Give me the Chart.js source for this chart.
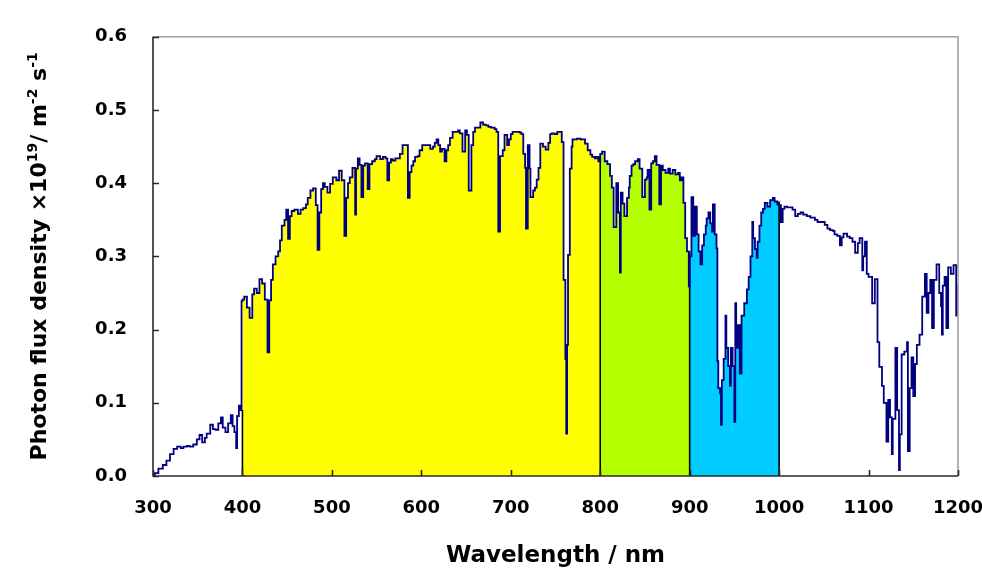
<!DOCTYPE html>
<html>
<head>
<meta charset="utf-8">
<script src="https://cdn.jsdelivr.net/npm/chart.js@4.4.1/dist/chart.umd.min.js"></script>
<style>
  html, body { margin: 0; padding: 0; background: #ffffff; }
  #wrap { width: 982px; height: 569px; position: relative; }
</style>
</head>
<body>
<div id="wrap"><canvas id="chart"></canvas></div>
<script>
// Solar photon flux spectrum (x10^19 photons m^-2 s^-1 per nm) against wavelength (nm)
const wavelength = [
  302, 306, 311, 315, 319, 323, 327, 331, 334, 338, 341, 345, 349, 352, 355, 358, 360, 364, 367, 370,
  373, 376, 378, 381, 384, 387, 389, 391, 393, 394, 396, 397, 399,
  400, 402, 405, 408, 411, 413, 416, 419, 422, 425, 428, 430, 432, 434, 437, 440, 442, 444, 447, 449,
  451, 453, 455, 458, 462, 465, 468, 471, 473, 476, 479, 482, 484, 486, 488, 490, 492, 495, 498,
  501, 505, 508, 511, 514, 516, 518, 520, 523, 526, 527, 529, 531, 533, 535, 537, 540, 542, 545, 548,
  550, 554, 557, 560, 562, 564, 566, 568, 571, 574, 576, 579, 582, 585, 587, 589, 591, 593, 596, 598,
  601, 604, 607, 610, 613, 615, 617, 619, 621, 623, 626, 628, 630, 632, 635, 638, 641, 643, 646, 649,
  651, 653, 656, 658, 660, 663, 666, 669, 672, 675, 678, 682, 684, 686, 688, 691, 693, 696, 698,
  700, 702, 706, 710, 712, 714, 716, 717, 719, 721, 722, 725, 727, 729, 731, 733, 736, 739, 742, 744,
  746, 749, 752, 755, 757, 759, 761, 762, 763, 764, 766, 768, 769, 772, 774, 778, 783, 786, 789, 791,
  794, 796, 798,
  800, 802, 805, 808, 811, 813, 815, 818, 820, 822, 823, 825, 827, 830, 832, 833, 835, 837, 839, 842,
  844, 847, 850, 852, 853, 855, 857, 859, 861, 863, 866, 868, 870, 873, 876, 878, 881, 884, 887, 889,
  891, 893, 895, 897, 899,
  900, 902, 904, 906, 908, 910, 912, 914, 916, 918, 919, 921, 923, 925, 926, 928, 930, 931, 932, 934,
  935, 936, 938, 940, 941, 943, 945, 946, 948, 950, 951, 952, 954, 956, 958, 961, 964, 966, 968, 970,
  971, 973, 975, 976, 978, 980, 982, 984, 987, 990, 993, 995, 998,
  1000, 1002, 1004, 1006, 1009, 1012, 1015, 1018, 1021, 1024, 1027, 1031, 1035, 1040, 1043, 1046, 1051,
  1054, 1057, 1060, 1062, 1065, 1068, 1070, 1072, 1076, 1079, 1082, 1085, 1088, 1090, 1093, 1094, 1096,
  1098, 1100, 1104, 1107, 1110, 1112, 1115, 1117, 1120, 1122, 1124, 1126, 1127, 1130, 1132, 1134, 1135,
  1137, 1140, 1143, 1144, 1146, 1148, 1150, 1152, 1154, 1157, 1160, 1163, 1165, 1167, 1169, 1171, 1173,
  1176, 1179, 1181, 1182, 1183, 1185, 1187, 1189, 1192, 1195, 1198, 1199, 1200
];
const flux = [
  0.000, 0.004, 0.010, 0.015, 0.021, 0.030, 0.037, 0.040, 0.038, 0.040, 0.041, 0.040, 0.043, 0.050, 0.056, 0.046, 0.052, 0.058, 0.070, 0.064,
  0.063, 0.072, 0.080, 0.066, 0.060, 0.072, 0.083, 0.068, 0.060, 0.038, 0.082, 0.096, 0.090,
  0.239, 0.241, 0.245, 0.230, 0.216, 0.248, 0.256, 0.250, 0.269, 0.263, 0.241, 0.169, 0.240, 0.268, 0.289, 0.300, 0.307, 0.322, 0.342, 0.350,
  0.364, 0.324, 0.355, 0.362, 0.364, 0.358, 0.364, 0.366, 0.371, 0.380, 0.390, 0.393, 0.370, 0.309, 0.360, 0.392, 0.400, 0.395, 0.387,
  0.399, 0.408, 0.404, 0.417, 0.404, 0.328, 0.380, 0.400, 0.408, 0.421, 0.357, 0.420, 0.434, 0.425, 0.381, 0.424, 0.427, 0.392, 0.426, 0.430,
  0.433, 0.437, 0.433, 0.436, 0.434, 0.404, 0.428, 0.433, 0.431, 0.434, 0.434, 0.440, 0.452, 0.452, 0.380, 0.415, 0.424, 0.430, 0.436, 0.437,
  0.445, 0.452, 0.452, 0.452, 0.447, 0.450, 0.455, 0.460, 0.452, 0.443, 0.447, 0.430, 0.445, 0.452, 0.462, 0.470, 0.470, 0.472, 0.468, 0.443,
  0.472, 0.466, 0.390, 0.452, 0.470, 0.476, 0.476, 0.483, 0.480, 0.479, 0.477, 0.476, 0.474, 0.470, 0.334, 0.437, 0.445, 0.466, 0.452,
  0.460, 0.467, 0.470, 0.470, 0.469, 0.467, 0.440, 0.421, 0.338, 0.452, 0.420, 0.381, 0.390, 0.394, 0.405, 0.421, 0.454, 0.450, 0.446, 0.455,
  0.467, 0.468, 0.467, 0.470, 0.470, 0.456, 0.268, 0.160, 0.058, 0.179, 0.302, 0.420, 0.450, 0.460, 0.460, 0.461, 0.460, 0.454, 0.445, 0.439,
  0.436, 0.434, 0.436,
  0.430, 0.440, 0.443, 0.430, 0.426, 0.410, 0.394, 0.340, 0.400, 0.360, 0.278, 0.387, 0.372, 0.355, 0.380, 0.394, 0.410, 0.424, 0.426, 0.430,
  0.433, 0.420, 0.381, 0.405, 0.408, 0.418, 0.364, 0.427, 0.430, 0.437, 0.425, 0.371, 0.424, 0.418, 0.414, 0.420, 0.413, 0.418, 0.412, 0.414,
  0.404, 0.408, 0.373, 0.325, 0.307,
  0.259, 0.300, 0.381, 0.328, 0.368, 0.330, 0.307, 0.289, 0.315, 0.330, 0.342, 0.352, 0.360, 0.345, 0.334, 0.371, 0.330, 0.311, 0.157, 0.120,
  0.113, 0.070, 0.131, 0.160, 0.219, 0.175, 0.150, 0.123, 0.175, 0.150, 0.074, 0.236, 0.175, 0.206, 0.140, 0.219, 0.236, 0.255, 0.272, 0.300,
  0.347, 0.325, 0.310, 0.298, 0.320, 0.342, 0.360, 0.365, 0.373, 0.368, 0.377, 0.380, 0.375,
  0.371, 0.370, 0.347, 0.365, 0.368, 0.367, 0.367, 0.364, 0.355, 0.358, 0.360, 0.357, 0.355, 0.353, 0.350, 0.347, 0.347,
  0.343, 0.338, 0.336, 0.335, 0.330, 0.328, 0.315, 0.326, 0.331, 0.327, 0.325, 0.320, 0.305, 0.318, 0.325, 0.281, 0.300,
  0.320, 0.276, 0.272, 0.236, 0.269, 0.183, 0.149, 0.123, 0.100, 0.047, 0.104, 0.080, 0.030, 0.078, 0.175, 0.090, 0.008,
  0.057, 0.166, 0.170, 0.183, 0.034, 0.120, 0.162, 0.109, 0.153, 0.179, 0.193, 0.245, 0.276, 0.223, 0.250, 0.268, 0.202,
  0.268, 0.289, 0.250, 0.232, 0.193, 0.260, 0.272, 0.202, 0.285, 0.276, 0.288, 0.219, 0.260
];

// Shaded wavelength bands and their colours
const bandEdges = [400, 800, 900, 1000];
const bandColors = ['#FFFF00', '#B4FF00', '#00CCFF'];

// Axis ticks
const xTickValues = [300, 400, 500, 600, 700, 800, 900, 1000, 1100, 1200];
const yTickValues = [0.0, 0.1, 0.2, 0.3, 0.4, 0.5, 0.6];

const xTitle = 'Wavelength / nm';
const yTitleParts = [
  { text: 'Photon flux density \u00d710' },
  { text: '19', sup: true },
  { text: '/ m' },
  { text: '-2', sup: true },
  { text: ' s' },
  { text: '-1', sup: true }
];

const FONT = "'DejaVu Sans', 'Liberation Sans', Arial, sans-serif";

const spectrum = wavelength.map((w, i) => ({ x: w, y: flux[i] }));

// value held at x (stepped line, value applies from its wavelength onward)
function valueAt(x) {
  let v = flux[0];
  for (let i = 0; i < wavelength.length; i++) { if (wavelength[i] <= x) v = flux[i]; else break; }
  return v;
}
// value held just below x
function valueBefore(x) {
  let v = flux[0];
  for (let i = 0; i < wavelength.length; i++) { if (wavelength[i] < x) v = flux[i]; else break; }
  return v;
}

const datasets = [];

// Filled bands under the spectrum
for (let b = 0; b < bandColors.length; b++) {
  const lo = bandEdges[b], hi = bandEdges[b + 1];
  const pts = [{ x: lo, y: valueAt(lo) }];
  spectrum.forEach(p => { if (p.x > lo && p.x < hi) pts.push({ x: p.x, y: p.y }); });
  pts.push({ x: hi, y: valueBefore(hi) });
  datasets.push({
    data: pts, stepped: 'after', borderWidth: 0, borderColor: 'rgba(0,0,0,0)',
    backgroundColor: bandColors[b], fill: 'origin', pointRadius: 0, order: 3
  });
}

// Black dividers at the band edges
bandEdges.forEach(e => {
  datasets.push({
    data: [{ x: e, y: 0 }, { x: e, y: valueBefore(e) }],
    borderColor: '#000000', borderWidth: 1.6, fill: false, pointRadius: 0, order: 2
  });
});

// The spectrum trace
datasets.push({
  data: spectrum, stepped: 'after', borderColor: '#000080', borderWidth: 1.8,
  fill: false, pointRadius: 0, order: 0
});

function drawRich(ctx, parts, size, cx, cy, rotate) {
  ctx.save();
  ctx.translate(cx, cy);
  if (rotate) ctx.rotate(-Math.PI / 2);
  const supSize = Math.round(size * 0.62);
  let total = 0;
  parts.forEach(p => {
    ctx.font = 'bold ' + (p.sup ? supSize : size) + 'px ' + FONT;
    p.w = ctx.measureText(p.text).width;
    total += p.w;
  });
  let x = -total / 2;
  ctx.fillStyle = '#000000';
  ctx.textBaseline = 'alphabetic';
  ctx.textAlign = 'left';
  parts.forEach(p => {
    ctx.font = 'bold ' + (p.sup ? supSize : size) + 'px ' + FONT;
    ctx.fillText(p.text, x, p.sup ? -size * 0.42 : 0);
    x += p.w;
  });
  ctx.restore();
}

const framePlugin = {
  id: 'frameAndTitles',
  afterDatasetsDraw(chart) {
    const { ctx, chartArea: a, scales } = chart;
    ctx.save();
    // top and right border
    ctx.strokeStyle = '#a0a0a0';
    ctx.lineWidth = 1.6;
    ctx.beginPath();
    ctx.moveTo(a.left, a.top); ctx.lineTo(a.right, a.top); ctx.lineTo(a.right, a.bottom);
    ctx.stroke();
    // axis lines and inward tick marks
    ctx.strokeStyle = '#2a2a2a';
    ctx.lineWidth = 1.6;
    ctx.beginPath();
    ctx.moveTo(a.left, a.top); ctx.lineTo(a.left, a.bottom); ctx.lineTo(a.right, a.bottom);
    yTickValues.forEach(v => {
      const py = Math.round(scales.y.getPixelForValue(v)) + 0.5;
      ctx.moveTo(a.left, py); ctx.lineTo(a.left + 6, py);
    });
    xTickValues.forEach(v => {
      const px = Math.round(scales.x.getPixelForValue(v)) + 0.5;
      ctx.moveTo(px, a.bottom); ctx.lineTo(px, a.bottom - 6);
    });
    ctx.stroke();
    ctx.restore();
  },
  afterDraw(chart) {
    const { ctx, chartArea: a } = chart;
    ctx.save();
    ctx.font = 'bold 23px ' + FONT;
    ctx.fillStyle = '#000000';
    ctx.textAlign = 'center';
    ctx.textBaseline = 'alphabetic';
    ctx.fillText(xTitle, (a.left + a.right) / 2, 562);
    ctx.restore();
    drawRich(ctx, yTitleParts, 22, 46, (a.top + a.bottom) / 2, true);
  }
};

new Chart(document.getElementById('chart'), {
  type: 'line',
  data: { datasets },
  options: {
    responsive: true,
    maintainAspectRatio: false,
    animation: false,
    events: [],
    layout: { padding: { left: 0, right: 24, top: 21, bottom: 0 } },
    plugins: { legend: { display: false }, tooltip: { enabled: false } },
    scales: {
      x: {
        type: 'linear', min: 300, max: 1200,
        afterBuildTicks: s => { s.ticks = xTickValues.map(v => ({ value: v })); },
        afterFit: s => { s.height = 93; s.paddingLeft = 0; s.paddingRight = 0; },
        grid: { display: false, drawTicks: false },
        border: { display: false },
        ticks: {
          autoSkip: false, maxRotation: 0, padding: 22, color: '#000000',
          font: { family: FONT, size: 18, weight: 'bold' },
          callback: v => String(v)
        }
      },
      y: {
        type: 'linear', min: 0, max: 0.6,
        afterBuildTicks: s => { s.ticks = yTickValues.map(v => ({ value: v })); },
        afterFit: s => { s.width = 153; },
        grid: { display: false, drawTicks: false },
        border: { display: false },
        ticks: {
          padding: 26, color: '#000000',
          font: { family: FONT, size: 18, weight: 'bold' },
          callback: v => Number(v).toFixed(1)
        }
      }
    }
  },
  plugins: [framePlugin]
});
</script>
</body>
</html>
